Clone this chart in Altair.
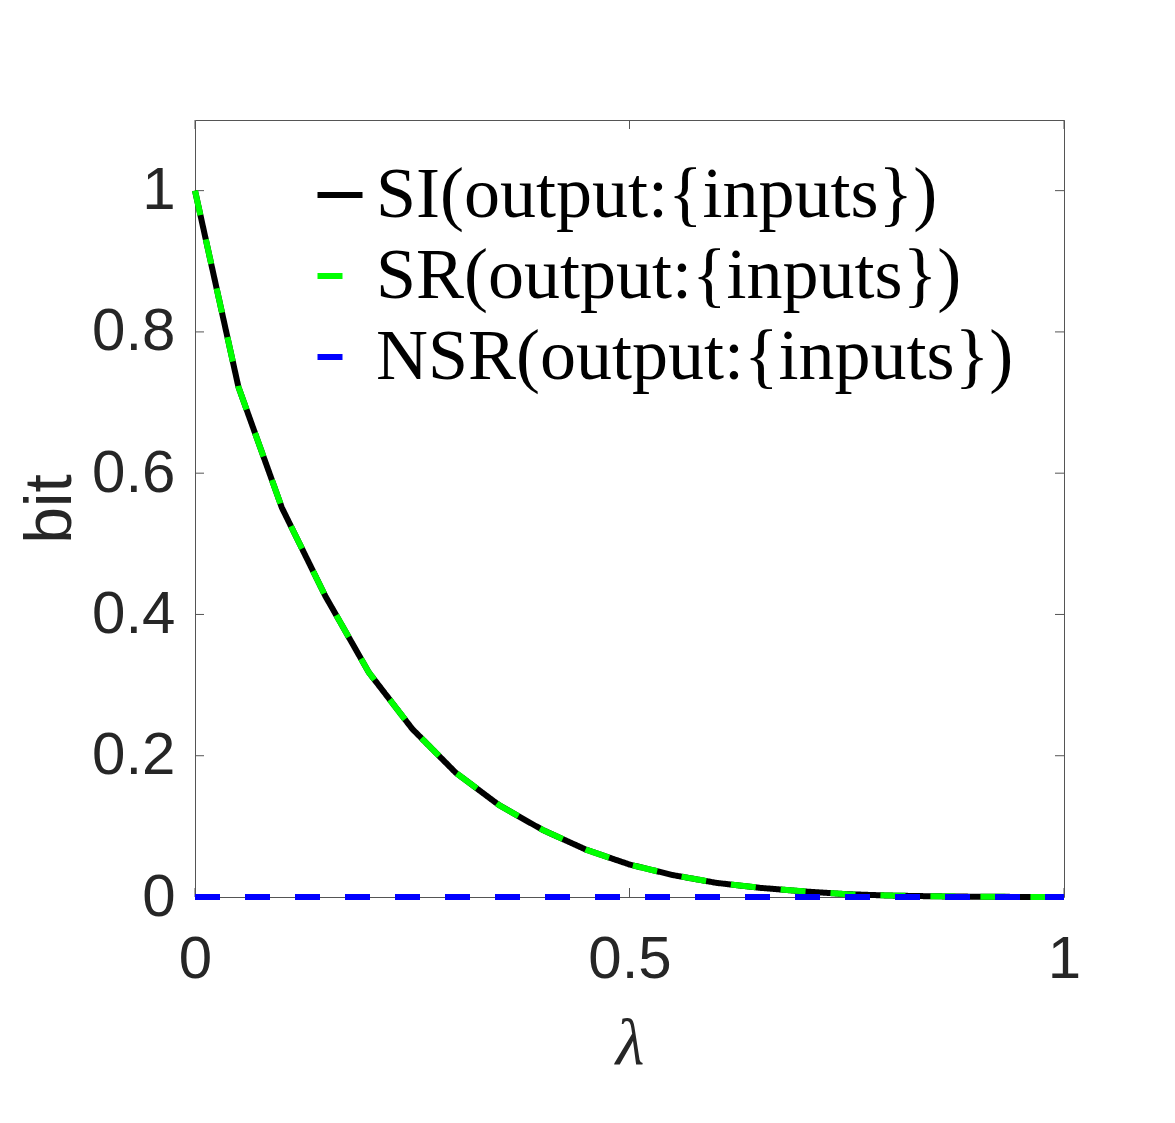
import altair as alt
import pandas as pd

lam = [0.0, 0.05, 0.1, 0.15, 0.2, 0.25, 0.3, 0.35, 0.4, 0.45, 0.5,
       0.55, 0.6, 0.65, 0.7, 0.75, 0.8, 0.85, 0.9, 0.95, 1.0]
si = [1.0, 0.722, 0.551, 0.426, 0.318, 0.238, 0.176, 0.13, 0.095, 0.067, 0.046,
      0.031, 0.02, 0.013, 0.008, 0.004, 0.002, 0.001, 0.0004, 0.0001, 0.0]
sr = list(si)
nsr = [0.0] * len(lam)

series_names = ["SI(output:{inputs})", "SR(output:{inputs})", "NSR(output:{inputs})"]
series_colors = ["#000000", "#00ff00", "#0000ff"]
series_dashes = [[1, 0], [25, 25], [25, 25]]

y_ticks = [0, 0.2, 0.4, 0.6, 0.8, 1.0]
x_ticks = [0, 0.5, 1.0]

W, H = 869, 777

rows = []
for name, vals in zip(series_names, [si, sr, nsr]):
    for x, y in zip(lam, vals):
        rows.append({"lam": x, "bit": y, "series": name})
df = pd.DataFrame(rows)

xscale = alt.Scale(domain=[0, 1], nice=False, zero=False)
yscale = alt.Scale(domain=[0, 1.1], nice=False, zero=False)

leg = alt.Legend(title=None, orient="none", legendX=109, legendY=39,
                 symbolType="stroke", symbolSize=2025, symbolStrokeWidth=6,
                 labelFont="Liberation Serif", labelFontSize=72, labelColor="#000000",
                 labelOffset=0, rowPadding=9, padding=0, labelLimit=1000)

color = alt.Color("series:N", scale=alt.Scale(domain=series_names, range=series_colors), legend=leg)
dash = alt.StrokeDash("series:N", scale=alt.Scale(domain=series_names, range=series_dashes), legend=leg)

xenc = alt.X("lam:Q", scale=xscale,
             axis=alt.Axis(values=x_ticks, format="~g", tickSize=0, domain=False, grid=False,
                           labelFlush=False,
                           labelFont="Liberation Sans", labelFontSize=60, labelColor="#262626",
                           labelPadding=33, title="λ", titleFont="Liberation Serif",
                           titleFontStyle="italic", titleFontWeight="normal", titleFontSize=66,
                           titleColor="#262626", titleBaseline="alphabetic", titleY=166))
yenc = alt.Y("bit:Q", scale=yscale,
             axis=alt.Axis(values=y_ticks, format="~g", tickSize=0, domain=False, grid=False,
                           labelFont="Liberation Sans", labelFontSize=60, labelColor="#262626",
                           labelPadding=20, title="bit", titleFont="Liberation Sans",
                           titleFontWeight="normal", titleFontSize=66, titleColor="#262626",
                           titleBaseline="alphabetic", titleX=-125))

layers = []
for name in series_names:
    layers.append(
        alt.Chart(df).transform_filter(alt.datum.series == name)
        .mark_line(strokeWidth=6, strokeCap="butt")
        .encode(x=xenc, y=yenc, color=color, strokeDash=dash)
    )

ydf = pd.DataFrame({"v": y_ticks})
xdf = pd.DataFrame({"v": x_ticks})
tick_color = "#555555"
tl = alt.Chart(ydf).mark_rule(color=tick_color, strokeWidth=1).encode(
    y=alt.Y("v:Q", scale=yscale), x=alt.value(0), x2=alt.value(9))
tr = alt.Chart(ydf).mark_rule(color=tick_color, strokeWidth=1).encode(
    y=alt.Y("v:Q", scale=yscale), x=alt.value(W - 9), x2=alt.value(W))
tt = alt.Chart(xdf).mark_rule(color=tick_color, strokeWidth=1).encode(
    x=alt.X("v:Q", scale=xscale), y=alt.value(0), y2=alt.value(9))
tb = alt.Chart(xdf).mark_rule(color=tick_color, strokeWidth=1).encode(
    x=alt.X("v:Q", scale=xscale), y=alt.value(H - 9), y2=alt.value(H))

chart = alt.layer(tl, tr, tt, tb, *layers).properties(
    width=W, height=H,
    autosize=alt.AutoSizeParams(type="none"),
    padding={"left": 195, "top": 120, "right": 111, "bottom": 226},
    background="white",
).configure_view(stroke=tick_color, strokeWidth=1)

chart.save("out.html", embed_options={"renderer": "svg", "actions": False})
